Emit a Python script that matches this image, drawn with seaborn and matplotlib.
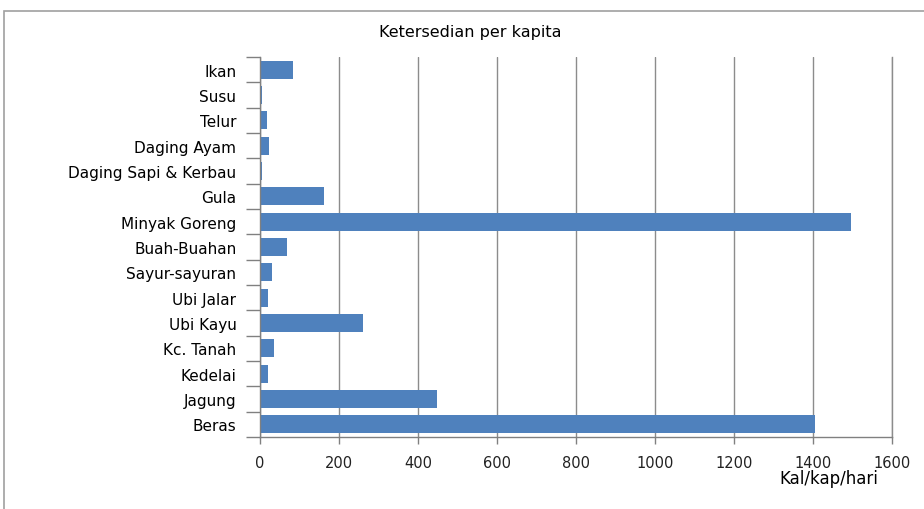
import matplotlib
matplotlib.use("Agg")
import matplotlib.pyplot as plt
import seaborn as sns
import pandas as pd
import numpy as np
from matplotlib.patches import Rectangle

categories = ["Ikan", "Susu", "Telur", "Daging Ayam", "Daging Sapi & Kerbau", "Gula",
              "Minyak Goreng", "Buah-Buahan", "Sayur-sayuran", "Ubi Jalar", "Ubi Kayu",
              "Kc. Tanah", "Kedelai", "Jagung", "Beras"]
values = [84, 4, 17, 24, 4, 162, 1497, 69, 30, 21, 262, 35, 21, 449, 1406]
x_ticks = [0, 200, 400, 600, 800, 1000, 1200, 1400, 1600]
title = "Ketersedian per kapita"
x_label = "Kal/kap/hari"

df = pd.DataFrame({"cat": categories, "val": values})

sns.set_theme(style="white")
plt.rcParams['font.family'] = ['DejaVu Sans']

fig = plt.figure(figsize=(9.24, 5.10), dpi=100)
ax = fig.add_axes([260/924, 1-438/510, (892-260)/924, (438-58)/510])

sns.barplot(data=df, x="val", y="cat", orient="h", color="#4F81BD",
            saturation=1, width=0.7, ax=ax, edgecolor="none")

ax.set_xlim(0, 1600)
ax.set_ylim(14.5, -0.5)
ax.set_xticks(x_ticks)
ax.set_xticklabels([str(t) for t in x_ticks], fontsize=10.5, color="#222222")
ax.tick_params(axis="y", which="major", left=False, length=0, labelsize=11, pad=17,
               labelcolor="#000000")
ax.set_yticks(np.arange(-0.5, 15, 1), minor=True)
ax.tick_params(axis="y", which="minor", left=True, length=10, color="#808080", width=1)
ax.tick_params(axis="x", which="major", bottom=True, length=5, color="#808080", width=1, pad=8)
ax.set_xlabel("")
ax.set_ylabel("")
ax.xaxis.grid(True, color="#8c8c8c", linewidth=1)
ax.set_axisbelow(True)
ax.spines["top"].set_visible(False)
ax.spines["right"].set_color("#8c8c8c")
ax.spines["right"].set_linewidth(1)
for s in ["left", "bottom"]:
    ax.spines[s].set_color("#808080")
    ax.spines[s].set_linewidth(1)

fig.text(470/924, 1-32/510, title, ha="center", va="center", fontsize=11.5, color="#000000")
fig.text(829/924, 1-479/510, x_label, ha="center", va="center", fontsize=12, color="#000000")

fig.patches.append(Rectangle((4/924, -0.1), 1.2, 1-12/510 + 0.1, transform=fig.transFigure,
                             fill=False, edgecolor="#a0a0a0", linewidth=1.2))

fig.savefig("out.png", dpi=100)
